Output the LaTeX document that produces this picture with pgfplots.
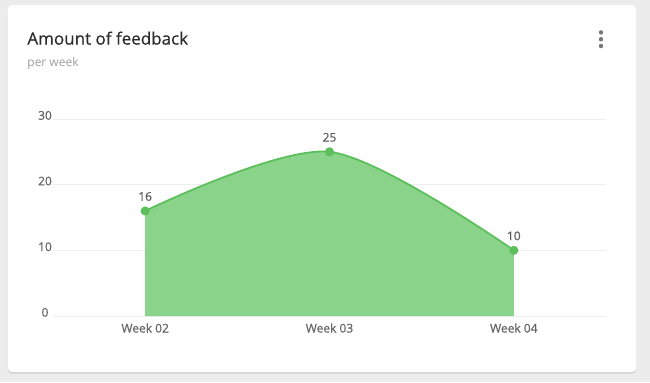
\documentclass[border=0pt]{standalone}
\usepackage{pgfplots}
\pgfplotsset{compat=1.18}
\usepackage{fontspec}
\setmainfont{Open Sans}
\newfontfamily\sbfont{Open Sans}[FakeBold=0.5]
\newfontfamily\mdfont{Open Sans}[FakeBold=0.35]
\definecolor{bgc}{HTML}{ECECEC}
\definecolor{titlec}{HTML}{2B2B2B}
\definecolor{subc}{HTML}{9E9E9E}
\definecolor{tickc}{HTML}{666666}
\definecolor{gridc}{HTML}{EEEEEE}
\definecolor{fillc}{HTML}{89D38A}
\definecolor{linec}{HTML}{5CBF5C}
\definecolor{dotc}{HTML}{777777}
\begin{document}
\begin{tikzpicture}
% background and card
\fill[bgc] (0pt,0pt) rectangle (325pt,-191pt);
\fill[black!18, rounded corners=2pt] (4pt,-3pt) rectangle (318pt,-186.8pt);
\fill[white, rounded corners=2pt] (4pt,-2.5pt) rectangle (318pt,-186pt);
% title and subtitle
\node[anchor=base west, inner sep=0pt, text=titlec, font=\mdfont\fontsize{8.5}{9.6}\selectfont] at (13.5pt,-22.3pt) {Amount of feedback};
\node[anchor=base west, inner sep=0pt, text=subc, font=\fontsize{6}{7.2}\selectfont] at (13.5pt,-33pt) {per week};
% menu dots
\fill[dotc] (300.5pt,-16.2pt) circle (1.1pt);
\fill[dotc] (300.5pt,-19.6pt) circle (1.1pt);
\fill[dotc] (300.5pt,-23pt) circle (1.1pt);
\begin{axis}[
  at={(26.5pt,-158pt)}, anchor=south west,
  scale only axis, width=276.5pt, height=98.5pt,
  xmin=-0.5, xmax=2.5, ymin=0, ymax=30,
  axis lines*=left, axis line style={draw=none},
  major tick length=0pt, tick style={draw=none},
  ymajorgrids, grid style={gridc, line width=0.5pt},
  xtick={0,1,2}, xticklabels={Week 02,Week 03,Week 04},
  ytick={0,10,20,30},
  /pgf/number format/assume math mode=true,
  xticklabel style={anchor=center, yshift=-6pt, text=tickc, font=\sbfont\fontsize{6}{7}\selectfont},
  yticklabel style={anchor=center, xshift=-4pt, yshift=1.8pt, text=tickc, font=\sbfont\fontsize{6}{7}\selectfont},
  clip=false,
]
\addplot[draw=none, fill=fillc, smooth, tension=0.5] coordinates {(0,16) (1,25) (2,10)} \closedcycle;
\addplot[linec, line width=0.9pt, smooth, tension=0.5, mark=*, mark size=1.8pt,
  mark options={fill=linec, draw=linec},
  nodes near coords,
  every node near coord/.append style={anchor=south, inner sep=0pt, yshift=4.6pt, text=tickc!90!black, font=\sbfont\fontsize{6}{7}\selectfont}]
  coordinates {(0,16) (1,25) (2,10)};
\end{axis}
\end{tikzpicture}
\end{document}
